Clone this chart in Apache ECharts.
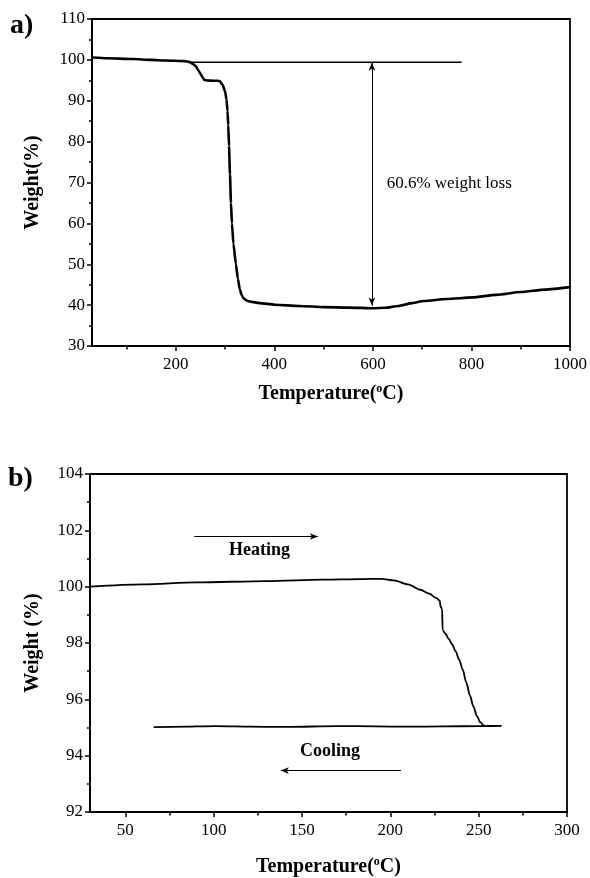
<!DOCTYPE html>
<html><head><meta charset="utf-8">
<script src="https://cdn.jsdelivr.net/npm/echarts@6/dist/echarts.min.js"></script>
<style>html,body{margin:0;padding:0;background:#fff}#c{width:590px;height:878px}</style>
</head><body><div id="c"></div>
<script>
// ---------- panel a) TGA ----------
const tgaTemp   = [32, 60, 113, 150, 181, 218, 228, 235, 241, 246, 251, 255, 258, 265, 275, 285, 289, 295, 300, 303, 305, 306.5, 308, 310, 312, 314, 317, 322, 326, 330, 334, 338, 344, 351, 370, 401, 450, 502, 550, 601, 625, 652, 680, 703, 750, 802, 850, 900, 950, 1000];
const tgaWeight = [100.6, 100.4, 100.2, 100.0, 99.85, 99.7, 99.46, 99.0, 98.4, 97.4, 96.4, 95.6, 95.1, 94.95, 94.9, 94.9, 94.8, 93.9, 92.3, 90.3, 87.5, 84.0, 79.0, 72.0, 65.0, 60.0, 55.0, 50.0, 46.5, 43.8, 42.4, 41.6, 41.1, 40.85, 40.5, 40.1, 39.8, 39.5, 39.4, 39.25, 39.35, 39.8, 40.5, 41.0, 41.5, 41.9, 42.5, 43.2, 43.8, 44.4];
const refLineTemp   = [228, 780];
const refLineWeight = [99.4, 99.4];
const lossArrowTemp = 598;
const lossArrowWeight = [99.3, 39.9];
const lossLabel = '60.6% weight loss';
const lossLabelAt = [628, 69.7];
const xLabelsA = [200, 400, 600, 800, 1000];
const xMinorA  = [100, 300, 500, 700, 900];

// ---------- panel b) heating / cooling ----------
const heatTemp   = [30, 60, 90, 130, 162, 183, 195, 202, 210, 217, 222, 226, 228, 228.4, 229.3, 229.6, 231, 233, 235, 237, 239, 241, 243, 245, 247, 249, 251, 253, 255];
const heatWeight = [100.0, 100.08, 100.15, 100.2, 100.25, 100.27, 100.28, 100.22, 100.08, 99.89, 99.75, 99.6, 99.5, 99.3, 99.22, 98.45, 98.35, 98.15, 97.95, 97.7, 97.4, 97.05, 96.6, 96.15, 95.75, 95.4, 95.18, 95.07, 95.05];
const coolTemp   = [263, 250, 230, 210, 192, 170, 141, 120, 101, 85, 66];
const coolWeight = [95.06, 95.05, 95.04, 95.03, 95.04, 95.05, 95.02, 95.03, 95.05, 95.03, 95.01];
const heatArrowTemp = [89, 159];
const heatArrowWeight = 101.78;
const coolArrowTemp = [206, 138];
const coolArrowWeight = 93.47;
const heatLabel = 'Heating', heatLabelAt = [126, 101.28];
const coolLabel = 'Cooling', coolLabelAt = [165.8, 94.14];
const xLabelsB = [50, 100, 150, 200, 250, 300];
const xMinorB  = [75, 125, 175, 225, 275];

const zip = (a, b) => a.map((v, i) => [v, b[i]]);
const SERIF = "'Liberation Serif', 'DejaVu Serif', serif";
const BLACK = '#000';

function xAxisMain(grid, min, max, labels, nameGap) {
  return {
    type: 'value', gridIndex: grid, min: min, max: max, position: 'bottom',
    axisLine: { show: true, lineStyle: { color: BLACK, width: 2 } },
    axisTick: { show: true, inside: false, length: 5, customValues: labels, lineStyle: { color: BLACK, width: 1.5 } },
    axisLabel: { show: true, customValues: labels, color: BLACK, fontFamily: SERIF, fontSize: 17, margin: 10,
      formatter: v => String(v) },
    splitLine: { show: false },
    name: 'Temperature({sup|o}C)', nameLocation: 'middle', nameGap: nameGap,
    nameTextStyle: {
      color: BLACK, fontFamily: SERIF, fontSize: 20, fontWeight: 'bold',
      rich: { sup: { fontFamily: SERIF, fontSize: 12, fontWeight: 'bold', color: BLACK, padding: [0, 0, 9, 0] } }
    }
  };
}
function xAxisMinor(grid, min, max, ticks) {
  return {
    type: 'value', gridIndex: grid, min: min, max: max, position: 'bottom',
    axisLine: { show: false },
    axisTick: { show: true, inside: false, length: 3.5, customValues: ticks, lineStyle: { color: BLACK, width: 1.5 } },
    axisLabel: { show: false },
    splitLine: { show: false }
  };
}
function yAxisMain(grid, min, max, interval, name, nameGap) {
  return {
    type: 'value', gridIndex: grid, min: min, max: max, interval: interval,
    axisLine: { show: true, lineStyle: { color: BLACK, width: 2 } },
    axisTick: { show: true, inside: false, length: 5, lineStyle: { color: BLACK, width: 1.5 } },
    minorTick: { show: true, splitNumber: 2, length: 3, lineStyle: { color: BLACK, width: 1.5 } },
    axisLabel: { color: BLACK, fontFamily: SERIF, fontSize: 17, margin: 7 },
    splitLine: { show: false }, minorSplitLine: { show: false },
    name: name, nameLocation: 'middle', nameGap: nameGap, nameRotate: 90,
    nameTextStyle: { color: BLACK, fontFamily: SERIF, fontSize: 20, fontWeight: 'bold' }
  };
}
function textPoint(coord, text, pos, bold) {
  return {
    coord: coord, symbol: 'circle', symbolSize: 0, value: text,
    label: { show: true, position: pos, distance: 0, formatter: text, color: BLACK,
      fontFamily: SERIF, fontSize: bold ? 18 : 17, fontWeight: bold ? 'bold' : 'normal' }
  };
}

const chart = echarts.init(document.getElementById('c'), null, { renderer: 'canvas' });
chart.setOption({
  animation: false,
  backgroundColor: '#fff',
  graphic: [
    { type: 'text', left: 10, top: 12, style: { text: 'a)', font: "bold 28px 'Liberation Serif', serif", fill: BLACK } },
    { type: 'text', left: 8, top: 465, style: { text: 'b)', font: "bold 28px 'Liberation Serif', serif", fill: BLACK } }
  ],
  grid: [
    { left: 92, right: 18, top: 19, height: 327, show: true, borderColor: BLACK, borderWidth: 1.8, backgroundColor: 'transparent' },
    { left: 90, right: 23, top: 474, height: 338, show: true, borderColor: BLACK, borderWidth: 1.8, backgroundColor: 'transparent' }
  ],
  xAxis: [
    xAxisMain(0, 30, 1000, xLabelsA, 37),
    xAxisMinor(0, 30, 1000, xMinorA),
    xAxisMain(1, 30, 300, xLabelsB, 44),
    xAxisMinor(1, 30, 300, xMinorB)
  ],
  yAxis: [
    yAxisMain(0, 30, 110, 10, 'Weight(%)', 49),
    yAxisMain(1, 92, 104, 2, 'Weight (%)', 47)
  ],
  series: [
    {
      type: 'line', xAxisIndex: 0, yAxisIndex: 0, data: zip(tgaTemp, tgaWeight),
      symbol: 'none', smooth: 0.2, smoothMonotone: 'x',
      lineStyle: { color: BLACK, width: 2.6, join: 'round' }, silent: true
    },
    {
      type: 'line', xAxisIndex: 0, yAxisIndex: 0, data: zip(refLineTemp, refLineWeight),
      symbol: 'none', lineStyle: { color: BLACK, width: 1.5 }, silent: true,
      markLine: {
        silent: true, symbol: ['arrow', 'arrow'], symbolSize: [5, 8],
        lineStyle: { color: BLACK, width: 1, type: 'solid' }, label: { show: false },
        data: [[{ coord: [lossArrowTemp, lossArrowWeight[0]] }, { coord: [lossArrowTemp, lossArrowWeight[1]] }]]
      },
      markPoint: { silent: true, data: [textPoint(lossLabelAt, lossLabel, 'right', false)] }
    },
    {
      type: 'line', xAxisIndex: 2, yAxisIndex: 1, data: zip(heatTemp, heatWeight),
      symbol: 'none', smooth: 0.3, smoothMonotone: 'x',
      lineStyle: { color: BLACK, width: 1.8 }, silent: true,
      markLine: {
        silent: true, symbol: ['none', 'arrow'], symbolSize: [5, 8],
        lineStyle: { color: BLACK, width: 1, type: 'solid' }, label: { show: false },
        data: [
          [{ coord: [heatArrowTemp[0], heatArrowWeight] }, { coord: [heatArrowTemp[1], heatArrowWeight] }],
          [{ coord: [coolArrowTemp[0], coolArrowWeight] }, { coord: [coolArrowTemp[1], coolArrowWeight] }]
        ]
      },
      markPoint: { silent: true, data: [
        textPoint(heatLabelAt, heatLabel, 'inside', true),
        textPoint(coolLabelAt, coolLabel, 'inside', true)
      ] }
    },
    {
      type: 'line', xAxisIndex: 2, yAxisIndex: 1, data: zip(coolTemp, coolWeight),
      symbol: 'none', smooth: 0.3, lineStyle: { color: BLACK, width: 1.8 }, silent: true
    }
  ]
});
</script>
</body></html>
